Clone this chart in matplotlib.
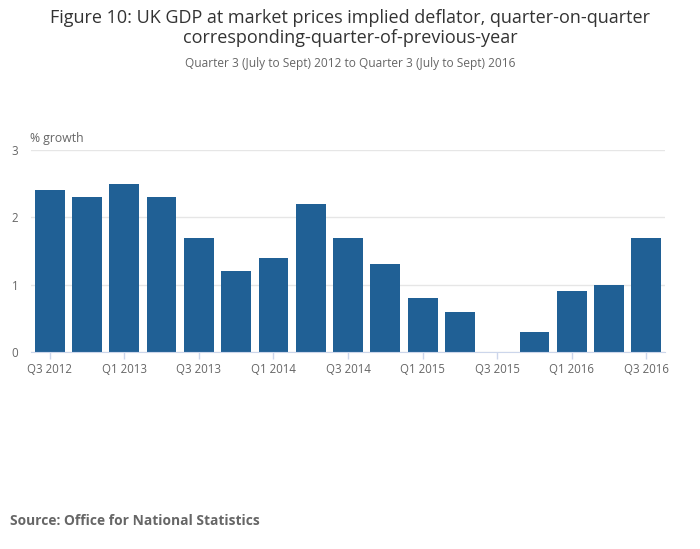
import numpy as np
import matplotlib.pyplot as plt

quarters = ["Q3 2012", "Q4 2012", "Q1 2013", "Q2 2013", "Q3 2013", "Q4 2013",
            "Q1 2014", "Q2 2014", "Q3 2014", "Q4 2014", "Q1 2015", "Q2 2015",
            "Q3 2015", "Q4 2015", "Q1 2016", "Q2 2016", "Q3 2016"]
growth = [2.4, 2.3, 2.5, 2.3, 1.7, 1.2, 1.4, 2.2, 1.7, 1.3, 0.8, 0.6,
          0.0, 0.3, 0.9, 1.0, 1.7]
yticks = [0, 1, 2, 3]

plt.rcParams['font.family'] = ['Open Sans', 'DejaVu Sans']

fig = plt.figure(figsize=(7, 5.49), dpi=100)
ax = fig.add_axes([0.0443, 0.3588, 0.9057, 0.368])

x = np.arange(len(quarters))
ax.bar(x, growth, width=0.8, color="#206095", zorder=3)

ax.set_xlim(-0.5, len(quarters) - 0.5)
ax.set_ylim(0, 3)
ax.set_yticks(yticks)
ax.set_yticklabels([str(v) for v in yticks], fontsize=8.3, color="#666666")
ax.tick_params(axis='y', length=0, pad=14)
for lbl in ax.get_yticklabels():
    lbl.set_horizontalalignment('left')

ax.set_xticks(x[::2])
ax.set_xticklabels(quarters[::2], fontsize=8.3, color="#666666")
ax.tick_params(axis='x', length=5, color="#ccd6eb", width=1, pad=3)

ax.grid(axis='y', color="#e6e6e6", linewidth=1, zorder=0)
for s in ["top", "right", "left"]:
    ax.spines[s].set_visible(False)
ax.spines["bottom"].set_color("#ccd6eb")
ax.spines["bottom"].set_zorder(4)

fig.text(0.0429, 0.735, "% growth", fontsize=8.8, color="#666666", ha="left", va="bottom")

fig.text(0.5, 0.968, "Figure 10: UK GDP at market prices implied deflator, quarter-on-quarter",
         fontsize=13, color="#333333", ha="center", va="center")
fig.text(0.5, 0.930, "corresponding-quarter-of-previous-year",
         fontsize=13, color="#333333", ha="center", va="center")
fig.text(0.5, 0.884, "Quarter 3 (July to Sept) 2012 to Quarter 3 (July to Sept) 2016",
         fontsize=8.6, color="#666666", ha="center", va="center")

fig.text(0.0143, 0.051, "Source: Office for National Statistics", fontsize=9.9,
         fontweight="bold", color="#666666", ha="left", va="center")

fig.savefig("out.png", dpi=100)
